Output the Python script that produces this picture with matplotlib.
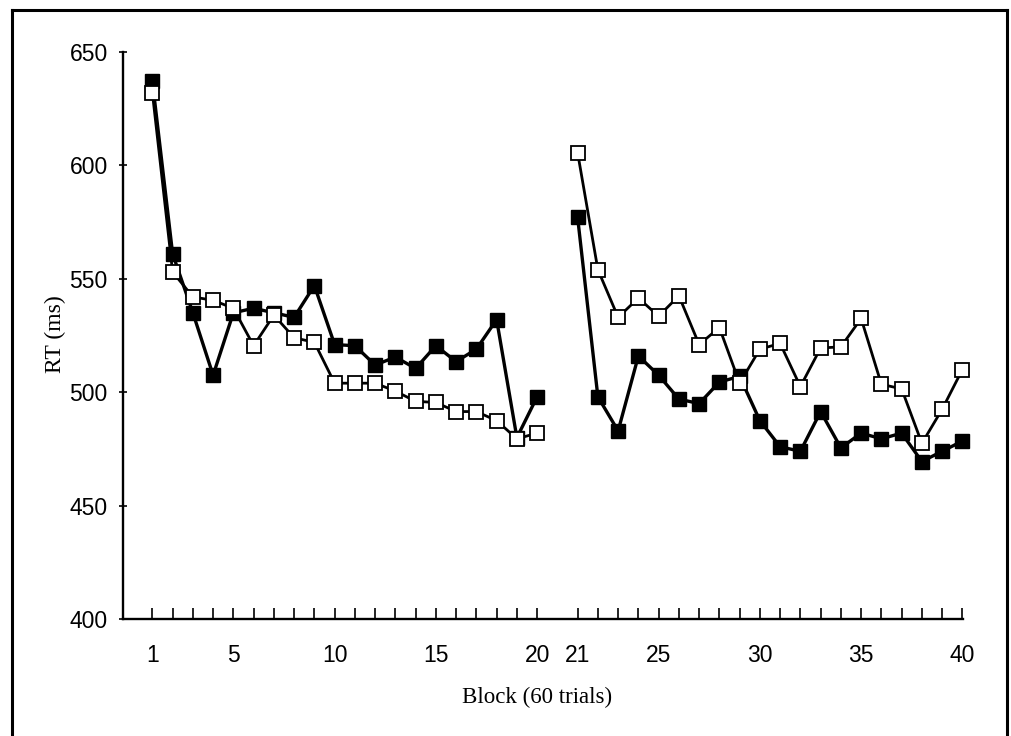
import matplotlib
matplotlib.use("Agg")
import matplotlib.pyplot as plt
from matplotlib.lines import Line2D

# Data
blocks_a = list(range(1, 21))
blocks_b = list(range(21, 41))
filled_a = [637, 561, 535, 507.5, 535, 537, 535, 533, 547, 521,
            520.5, 512, 515.5, 510.5, 520.5, 513.5, 519, 532, 480, 498]
open_a = [632, 553, 542, 540.5, 537, 520.5, 534, 524, 522, 504,
          504, 504, 500.5, 496, 495.5, 491.5, 491.5, 487.5, 479.5, 482]
filled_b = [577, 498, 483, 516, 507.5, 497, 495, 504.5, 507, 487.5,
            476, 474, 491.5, 475.5, 482, 479.5, 482, 469.5, 474, 478.5]
open_b = [605.5, 554, 533, 541.5, 533.5, 542.5, 521, 528.5, 504, 519,
          521.5, 502.5, 519.5, 520, 532.5, 503.5, 501.5, 477.5, 492.5, 510]
tick_blocks = [1, 5, 10, 15, 20, 21, 25, 30, 35, 40]
yticks = [400, 450, 500, 550, 600, 650]

def pos(b):
    # one empty slot between block 20 and block 21
    return b if b <= 20 else b + 1

fig = plt.figure(figsize=(10.12, 7.36), dpi=100)
ax = fig.add_axes([123/1012, (736-619.3)/736, (963-123)/1012, (619.3-51.7)/736])

xa = [pos(b) for b in blocks_a]
xb = [pos(b) for b in blocks_b]
for xs, f, o in [(xa, filled_a, open_a), (xb, filled_b, open_b)]:
    ax.plot(xs, f, color="black", lw=2.4, marker="s", ms=9.5,
            mfc="black", mec="black", mew=1.0, zorder=3, clip_on=False)
    ax.plot(xs, o, color="black", lw=2.0, marker="s", ms=9.5,
            mfc="white", mec="black", mew=1.3, zorder=4, clip_on=False)

ax.set_xlim(-0.45, 41.03)
ax.set_ylim(400, 650)

ax.set_xticks([pos(b) for b in blocks_a + blocks_b], minor=True)
ax.set_xticks([pos(b) for b in tick_blocks])
ax.set_xticklabels([str(b) for b in tick_blocks])
ax.set_yticks(yticks)
ax.set_yticklabels([str(v) for v in yticks])

ax.tick_params(axis="x", which="both", direction="in", length=8, width=1.2,
               pad=18, labelsize=16.5)
ax.tick_params(axis="y", which="major", direction="inout", length=6, width=1.2,
               pad=8, labelsize=16.5)
for lbl in ax.get_xticklabels() + ax.get_yticklabels():
    lbl.set_family(["Liberation Sans", "DejaVu Sans"])

for s in ["top", "right"]:
    ax.spines[s].set_visible(False)
for s in ["left", "bottom"]:
    ax.spines[s].set_linewidth(1.7)

fig.text(537/1012, 1 - 697/736, "Block (60 trials)", ha="center", va="center",
         fontsize=16.5, family=["Liberation Serif", "DejaVu Serif"])
fig.text(55/1012, 1 - 334/736, "RT (ms)", ha="center", va="center",
         rotation=90, fontsize=17, family=["Liberation Serif", "DejaVu Serif"])

# outer frame (open at bottom)
for xs, ys in [([12, 12], [736, 10]), ([12, 1007], [10, 10]), ([1007, 1007], [10, 736])]:
    fig.add_artist(Line2D([x/1012 for x in xs], [1 - y/736 for y in ys],
                          color="black", lw=2.2, transform=fig.transFigure))

fig.savefig("out.png", dpi=100)
